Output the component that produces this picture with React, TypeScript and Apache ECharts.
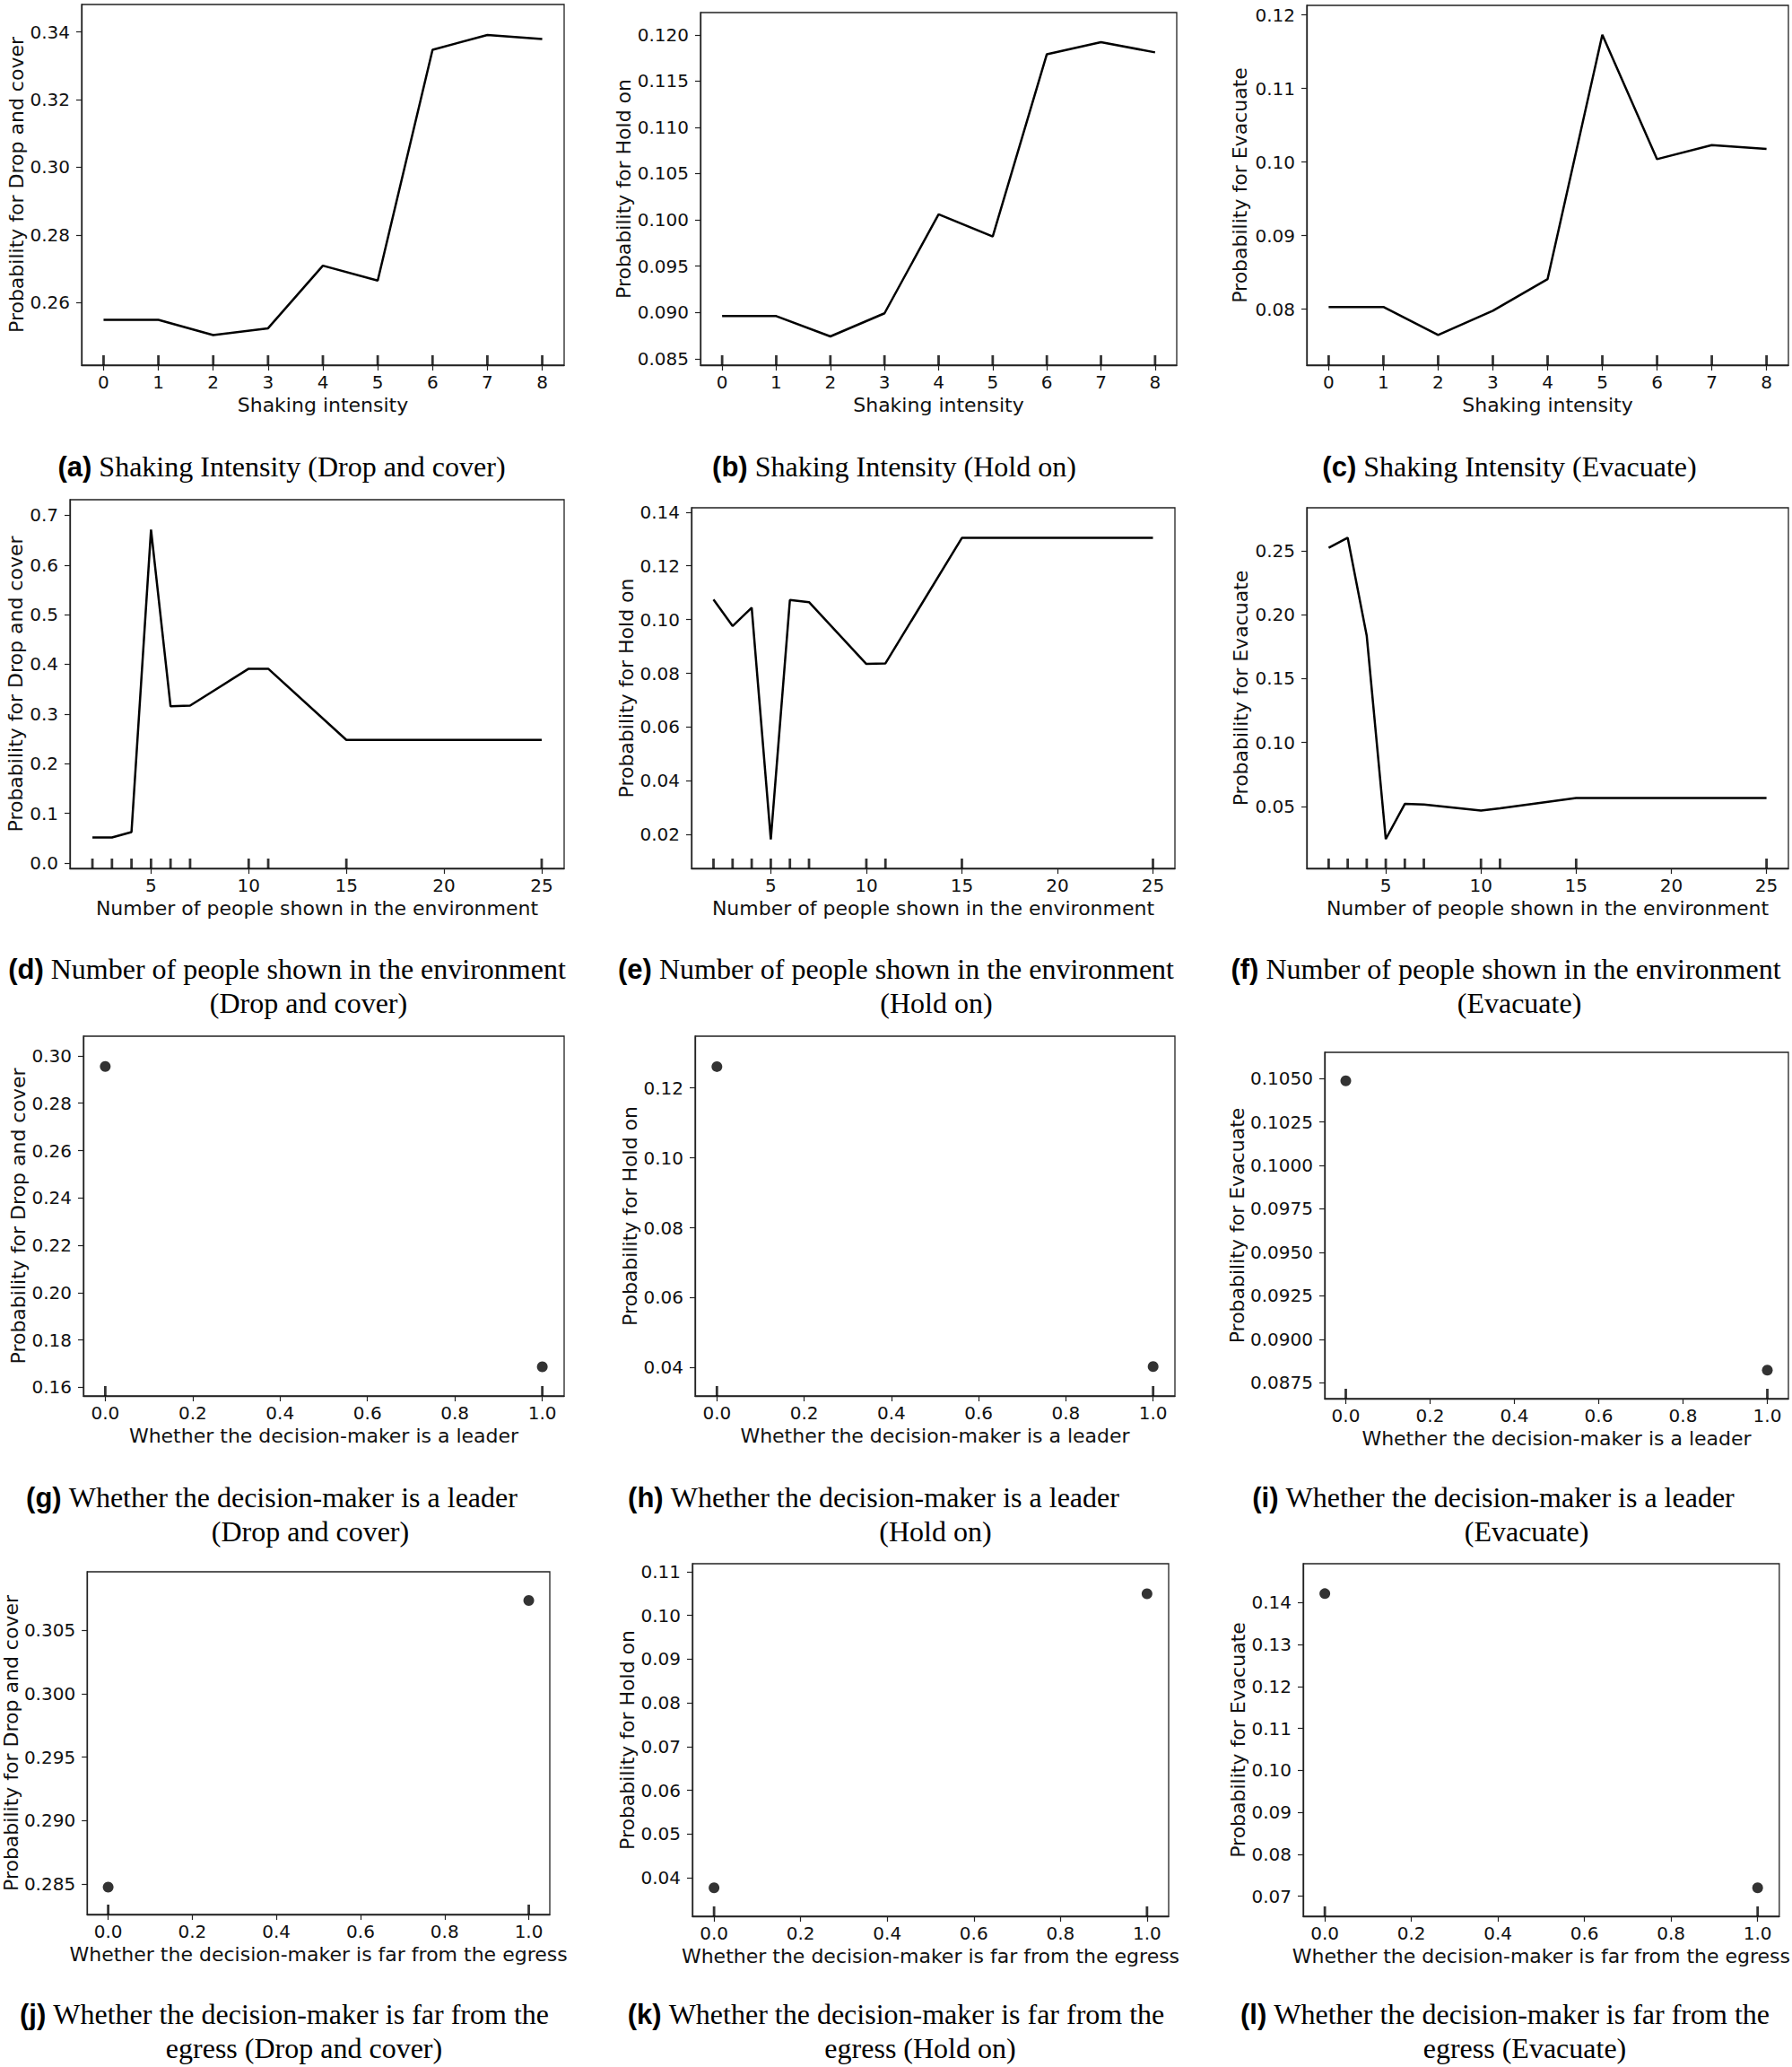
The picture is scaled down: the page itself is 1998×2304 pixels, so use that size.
import React, { useEffect, useRef } from "react";
import * as echarts from "echarts";

// ---------- data ----------
const shakingX = [0, 1, 2, 3, 4, 5, 6, 7, 8];
const shakingDrop = [0.2549, 0.2549, 0.2504, 0.2524, 0.2709, 0.2665, 0.3347, 0.3391, 0.3379];
const shakingHold = [0.0896, 0.0896, 0.0874, 0.0899, 0.1006, 0.0982, 0.1179, 0.1192, 0.1181];
const shakingEvac = [0.0803, 0.0803, 0.0765, 0.0798, 0.0841, 0.1173, 0.1004, 0.1023, 0.1018];
const shakingDeciles = [0, 1, 2, 3, 4, 5, 6, 7, 8];

const peopleX = [2, 3, 4, 5, 6, 7, 10, 11, 15, 25];
const peopleDrop = [0.0514, 0.0514, 0.0623, 0.671, 0.3155, 0.3168, 0.3911, 0.3911, 0.2479, 0.2479];
const peopleHold = [0.1075, 0.0976, 0.1044, 0.0182, 0.1073, 0.1065, 0.0835, 0.0837, 0.1304, 0.1304];
const peopleEvac = [0.2524, 0.2603, 0.1835, 0.0244, 0.0519, 0.0514, 0.0467, 0.0484, 0.0566, 0.0566];
const peopleDeciles = [2, 3, 4, 5, 6, 7, 10, 11, 15, 25];

const binaryX = [0, 1];
const leaderDrop = [0.2955, 0.1687];
const leaderHold = [0.1261, 0.0403];
const leaderEvac = [0.10486, 0.08823];
const egressDrop = [0.28476, 0.30734];
const egressHold = [0.0377, 0.10493];
const egressEvac = [0.14216, 0.072];
const binaryDeciles = [0, 1];

// ---------- tick labels ----------
const shakingTicks = [0, 1, 2, 3, 4, 5, 6, 7, 8];
const peopleTicks = [5, 10, 15, 20, 25];
const binaryTicks = [0, 0.2, 0.4, 0.6, 0.8, 1.0];

const yTicksA = [0.26, 0.28, 0.3, 0.32, 0.34];
const yTicksB = [0.085, 0.09, 0.095, 0.1, 0.105, 0.11, 0.115, 0.12];
const yTicksC = [0.08, 0.09, 0.1, 0.11, 0.12];
const yTicksD = [0.0, 0.1, 0.2, 0.3, 0.4, 0.5, 0.6, 0.7];
const yTicksE = [0.02, 0.04, 0.06, 0.08, 0.1, 0.12, 0.14];
const yTicksF = [0.05, 0.1, 0.15, 0.2, 0.25];
const yTicksG = [0.16, 0.18, 0.2, 0.22, 0.24, 0.26, 0.28, 0.3];
const yTicksH = [0.04, 0.06, 0.08, 0.1, 0.12];
const yTicksI = [0.0875, 0.09, 0.0925, 0.095, 0.0975, 0.1, 0.1025, 0.105];
const yTicksJ = [0.285, 0.29, 0.295, 0.3, 0.305];
const yTicksK = [0.04, 0.05, 0.06, 0.07, 0.08, 0.09, 0.1, 0.11];
const yTicksL = [0.07, 0.08, 0.09, 0.1, 0.11, 0.12, 0.13, 0.14];

// ---------- texts ----------
const xNames = [
  "Shaking intensity",
  "Number of people shown in the environment",
  "Whether the decision-maker is a leader",
  "Whether the decision-maker is far from the egress",
];
const yNames = ["Probability for Drop and cover", "Probability for Hold on", "Probability for Evacuate"];

const captionLabels = ["(a)", "(b)", "(c)", "(d)", "(e)", "(f)", "(g)", "(h)", "(i)", "(j)", "(k)", "(l)"];
const captionLine1 = [
  "Shaking Intensity (Drop and cover)",
  "Shaking Intensity (Hold on)",
  "Shaking Intensity (Evacuate)",
  "Number of people shown in the environment",
  "Number of people shown in the environment",
  "Number of people shown in the environment",
  "Whether the decision-maker is a leader",
  "Whether the decision-maker is a leader",
  "Whether the decision-maker is a leader",
  "Whether the decision-maker is far from the",
  "Whether the decision-maker is far from the",
  "Whether the decision-maker is far from the",
];
const captionLine2 = [
  "", "", "",
  "(Drop and cover)", "(Hold on)", "(Evacuate)",
  "(Drop and cover)", "(Hold on)", "(Evacuate)",
  "egress (Drop and cover)", "egress (Hold on)", "egress (Evacuate)",
];

// ---------- layout (pixels) ----------
// [left, top, right, bottom]
const boxes: [number, number, number, number][] = [
  [91, 5, 629, 407], [781, 14, 1312, 407], [1457, 6, 1994, 407],
  [78, 557, 629, 968], [771, 566, 1310, 968], [1457, 566, 1994, 968],
  [93, 1155, 629, 1556], [775, 1155, 1310, 1556], [1477, 1173, 1994, 1559],
  [97, 1752, 613, 2134], [772, 1743, 1303, 2136], [1453, 1743, 1990, 2136],
];
const yNameGaps = [61, 71, 64, 50, 62, 63, 62, 62, 84, 70, 59, 60];
// caption positions: [x1, y1, x2, y2]
const capPos: [number, number, number, number][] = [
  [314, 520, 0, 0], [997, 520, 0, 0], [1683, 520, 0, 0],
  [320, 1080, 344, 1118], [999, 1080, 1044, 1118], [1679, 1080, 1694, 1118],
  [303, 1669, 346, 1707], [974, 1669, 1043, 1707], [1665, 1669, 1702, 1707],
  [317, 2245, 339, 2283], [999, 2245, 1026, 2283], [1678, 2245, 1700, 2283],
];

type P = {
  kind: "line" | "dot";
  x: number[];
  y: number[];
  rug: number[];
  xr: [number, number];
  yr: [number, number];
  xt: number[];
  xd: number;
  yt: number[];
  yd: number;
  xName: string;
  yName: string;
};

const panels: P[] = [
  { kind: "line", x: shakingX, y: shakingDrop, rug: shakingDeciles, xr: [-0.4, 8.4], yr: [0.2415, 0.3481], xt: shakingTicks, xd: 0, yt: yTicksA, yd: 2, xName: xNames[0], yName: yNames[0] },
  { kind: "line", x: shakingX, y: shakingHold, rug: shakingDeciles, xr: [-0.4, 8.4], yr: [0.0843, 0.1224], xt: shakingTicks, xd: 0, yt: yTicksB, yd: 3, xName: xNames[0], yName: yNames[1] },
  { kind: "line", x: shakingX, y: shakingEvac, rug: shakingDeciles, xr: [-0.4, 8.4], yr: [0.0724, 0.1213], xt: shakingTicks, xd: 0, yt: yTicksC, yd: 2, xName: xNames[0], yName: yNames[2] },
  { kind: "line", x: peopleX, y: peopleDrop, rug: peopleDeciles, xr: [0.85, 26.15], yr: [-0.0109, 0.7314], xt: peopleTicks, xd: 0, yt: yTicksD, yd: 1, xName: xNames[1], yName: yNames[0] },
  { kind: "line", x: peopleX, y: peopleHold, rug: peopleDeciles, xr: [0.85, 26.15], yr: [0.0074, 0.1416], xt: peopleTicks, xd: 0, yt: yTicksE, yd: 2, xName: xNames[1], yName: yNames[1] },
  { kind: "line", x: peopleX, y: peopleEvac, rug: peopleDeciles, xr: [0.85, 26.15], yr: [0.0014, 0.2838], xt: peopleTicks, xd: 0, yt: yTicksF, yd: 2, xName: xNames[1], yName: yNames[2] },
  { kind: "dot", x: binaryX, y: leaderDrop, rug: binaryDeciles, xr: [-0.05, 1.05], yr: [0.1564, 0.3083], xt: binaryTicks, xd: 1, yt: yTicksG, yd: 2, xName: xNames[2], yName: yNames[0] },
  { kind: "dot", x: binaryX, y: leaderHold, rug: binaryDeciles, xr: [-0.05, 1.05], yr: [0.0319, 0.1348], xt: binaryTicks, xd: 1, yt: yTicksH, yd: 2, xName: xNames[2], yName: yNames[1] },
  { kind: "dot", x: binaryX, y: leaderEvac, rug: binaryDeciles, xr: [-0.05, 1.05], yr: [0.08659, 0.1065], xt: binaryTicks, xd: 1, yt: yTicksI, yd: 4, xName: xNames[2], yName: yNames[2] },
  { kind: "dot", x: binaryX, y: egressDrop, rug: binaryDeciles, xr: [-0.05, 1.05], yr: [0.2826, 0.3096], xt: binaryTicks, xd: 1, yt: yTicksJ, yd: 3, xName: xNames[3], yName: yNames[0] },
  { kind: "dot", x: binaryX, y: egressHold, rug: binaryDeciles, xr: [-0.05, 1.05], yr: [0.0312, 0.1118], xt: binaryTicks, xd: 1, yt: yTicksK, yd: 2, xName: xNames[3], yName: yNames[1] },
  { kind: "dot", x: binaryX, y: egressEvac, rug: binaryDeciles, xr: [-0.05, 1.05], yr: [0.0652, 0.1493], xt: binaryTicks, xd: 1, yt: yTicksL, yd: 2, xName: xNames[3], yName: yNames[2] },
];

const AXIS_COLOR = "#222";
const TEXT_COLOR = "#111";
const SANS = "DejaVu Sans";

function buildOption() {
  const grid: any[] = [];
  const xAxis: any[] = [];
  const yAxis: any[] = [];
  const series: any[] = [];
  const graphic: any[] = [];

  panels.forEach((p, i) => {
    const [l, t, r, b] = boxes[i];
    grid.push({
      left: l,
      top: t,
      width: r - l,
      height: b - t,
      show: true,
      borderColor: AXIS_COLOR,
      borderWidth: 1.3,
      backgroundColor: "transparent",
    });
    xAxis.push({
      type: "value",
      gridIndex: i,
      min: p.xr[0],
      max: p.xr[1],
      name: p.xName,
      nameLocation: "middle",
      nameGap: 33,
      nameTextStyle: { fontFamily: SANS, fontSize: 22, color: TEXT_COLOR },
      axisLine: { show: true, onZero: false, lineStyle: { color: AXIS_COLOR, width: 1.3 } },
      axisTick: { show: true, length: 6, inside: false, customValues: p.xt, lineStyle: { color: AXIS_COLOR, width: 1.2 } },
      axisLabel: {
        show: true,
        margin: 9,
        customValues: p.xt,
        fontFamily: SANS,
        fontSize: 20,
        color: TEXT_COLOR,
        formatter: (v: number) => v.toFixed(p.xd),
      },
      splitLine: { show: false },
    });
    yAxis.push({
      type: "value",
      gridIndex: i,
      min: p.yr[0],
      max: p.yr[1],
      name: p.yName,
      nameLocation: "middle",
      nameGap: yNameGaps[i],
      nameRotate: 90,
      nameTextStyle: { fontFamily: SANS, fontSize: 22, color: TEXT_COLOR },
      axisLine: { show: true, onZero: false, lineStyle: { color: AXIS_COLOR, width: 1.3 } },
      axisTick: { show: true, length: 6, inside: false, customValues: p.yt, lineStyle: { color: AXIS_COLOR, width: 1.2 } },
      axisLabel: {
        show: true,
        margin: 13,
        customValues: p.yt,
        fontFamily: SANS,
        fontSize: 20,
        color: TEXT_COLOR,
        formatter: (v: number) => v.toFixed(p.yd),
      },
      splitLine: { show: false },
    });

    const pts = p.x.map((xv, k) => [xv, p.y[k]]);
    if (p.kind === "line") {
      series.push({
        type: "line",
        xAxisIndex: i,
        yAxisIndex: i,
        data: pts,
        showSymbol: false,
        symbol: "none",
        lineStyle: { color: "#000", width: 2.5 },
        silent: true,
      });
    } else {
      series.push({
        type: "scatter",
        xAxisIndex: i,
        yAxisIndex: i,
        data: pts,
        symbol: "circle",
        symbolSize: 12,
        itemStyle: { color: "#000" },
        silent: true,
      });
    }
    // deciles rug
    series.push({
      type: "scatter",
      xAxisIndex: i,
      yAxisIndex: i,
      data: p.rug.map((v) => [v, p.yr[0]]),
      symbol: "rect",
      symbolSize: [2.8, 11],
      symbolOffset: [0, "-50%"],
      itemStyle: { color: "#000" },
      clip: false,
      silent: true,
    });

    // captions
    const [cx1, cy1, cx2, cy2] = capPos[i];
    graphic.push({
      type: "text",
      x: cx1,
      y: cy1,
      silent: true,
      style: {
        text: `{b|${captionLabels[i]}} {t|${captionLine1[i]}}`,
        rich: {
          b: { fontFamily: "Liberation Sans", fontWeight: "bold", fontSize: 31, fill: "#000" },
          t: { fontFamily: "Liberation Serif", fontSize: 32, fill: "#000" },
        },
        fontFamily: "Liberation Serif",
        fontSize: 32,
        fill: "#000",
        align: "center",
        verticalAlign: "middle",
      },
    });
    if (captionLine2[i]) {
      graphic.push({
        type: "text",
        x: cx2,
        y: cy2,
        silent: true,
        style: {
          text: captionLine2[i],
          fontFamily: "Liberation Serif",
          fontSize: 32,
          fill: "#000",
          align: "center",
          verticalAlign: "middle",
        },
      });
    }
  });

  return {
    animation: false,
    backgroundColor: "#ffffff",
    textStyle: { fontFamily: SANS },
    grid,
    xAxis,
    yAxis,
    series,
    graphic,
  };
}

export default function App() {
  const ref = useRef<HTMLDivElement | null>(null);
  useEffect(() => {
    if (!ref.current) return;
    const chart = echarts.init(ref.current, undefined, { renderer: "svg" });
    chart.setOption(buildOption() as any);
    return () => chart.dispose();
  }, []);
  return (
    <div
      ref={ref}
      style={{ position: "absolute", left: 0, top: 0, width: 1998, height: 2304, background: "#fff" }}
    />
  );
}
